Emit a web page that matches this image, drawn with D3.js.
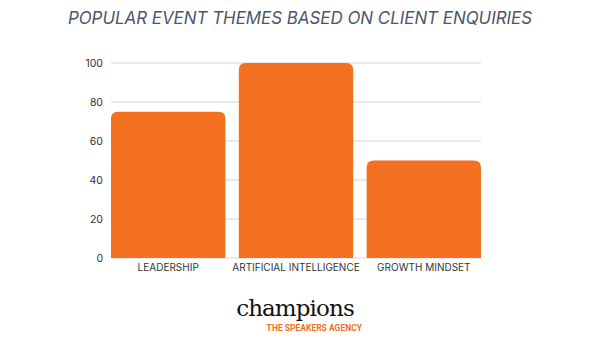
<!DOCTYPE html>
<html>
<head>
<meta charset="utf-8">
<script src="https://cdn.jsdelivr.net/npm/d3@7"></script>
<style>
  html, body { margin: 0; padding: 0; background: #fff; }
  svg { display: block; }
</style>
</head>
<body>
<svg id="chart" width="600" height="338"></svg>
<script>
// Event themes and their share of client enquiries
const categories = ["LEADERSHIP", "ARTIFICIAL INTELLIGENCE", "GROWTH MINDSET"];
const values = [75, 100, 50];
const yTicks = [0, 20, 40, 60, 80, 100];

const svg = d3.select("#chart");
const W = 600, H = 338;
const margin = { left: 111, right: 119, top: 63, bottom: 80 };
const orange = "#F37121";

svg.append("text")
  .attr("x", W / 2).attr("y", 24)
  .attr("text-anchor", "middle")
  .attr("font-family", "Inter, 'Open Sans', sans-serif")
  .attr("font-style", "italic")
  .attr("font-size", 16.9)
  .attr("fill", "#4b5668")
  .text("POPULAR EVENT THEMES BASED ON CLIENT ENQUIRIES");

const x = d3.scaleBand()
  .domain(categories)
  .range([margin.left, W - margin.right])
  .paddingInner(0.105)
  .paddingOuter(0);

const y = d3.scaleLinear()
  .domain([0, 100])
  .range([H - margin.bottom, margin.top]);

// Gridlines
svg.append("g")
  .selectAll("line")
  .data(yTicks)
  .join("line")
  .attr("x1", margin.left).attr("x2", W - margin.right)
  .attr("y1", d => y(d)).attr("y2", d => y(d))
  .attr("stroke", "#d6d6d6")
  .attr("stroke-width", 1.2);

// Y axis labels
const yAxis = d3.axisLeft(y).tickValues(yTicks).tickSize(0).tickPadding(8);
svg.append("g")
  .attr("transform", `translate(${margin.left},0)`)
  .call(yAxis)
  .call(g => g.select(".domain").remove())
  .call(g => g.selectAll("text")
    .attr("font-family", "Inter, 'Open Sans', sans-serif")
    .attr("font-size", 10.5)
    .attr("fill", "#333"));

// Bars with rounded top corners
const r = 7;
function barPath(x0, w, yTop, yBase) {
  return `M${x0},${yBase}V${yTop + r}Q${x0},${yTop} ${x0 + r},${yTop}` +
         `H${x0 + w - r}Q${x0 + w},${yTop} ${x0 + w},${yTop + r}V${yBase}Z`;
}
svg.append("g")
  .selectAll("path")
  .data(categories.map((c, i) => ({ c, v: values[i] })))
  .join("path")
  .attr("d", d => barPath(x(d.c), x.bandwidth(), y(d.v), y(0)))
  .attr("fill", orange);

// X axis labels
const xAxis = d3.axisBottom(x).tickSize(0).tickPadding(6);
svg.append("g")
  .attr("transform", `translate(0,${y(0)})`)
  .call(xAxis)
  .call(g => g.select(".domain").remove())
  .call(g => g.selectAll("text")
    .attr("font-family", "Inter, 'Open Sans', sans-serif")
    .attr("font-size", 10)
    .attr("fill", "#333"));

// Agency mark
const logo = svg.append("g");
logo.append("text")
  .attr("x", 295).attr("y", 316)
  .attr("text-anchor", "middle")
  .attr("font-family", "'DejaVu Serif', 'Liberation Serif', serif")
  .attr("font-size", 23)
  .attr("letter-spacing", -0.9)
  .attr("fill", "#111")
  .text("champions");
logo.append("text")
  .attr("x", 362).attr("y", 331)
  .attr("text-anchor", "end")
  .attr("font-family", "'Liberation Sans Narrow', 'Roboto', sans-serif")
  .attr("font-weight", "bold")
  .attr("font-size", 8.5)
  .attr("fill", orange)
  .text("THE SPEAKERS AGENCY");
</script>
</body>
</html>
